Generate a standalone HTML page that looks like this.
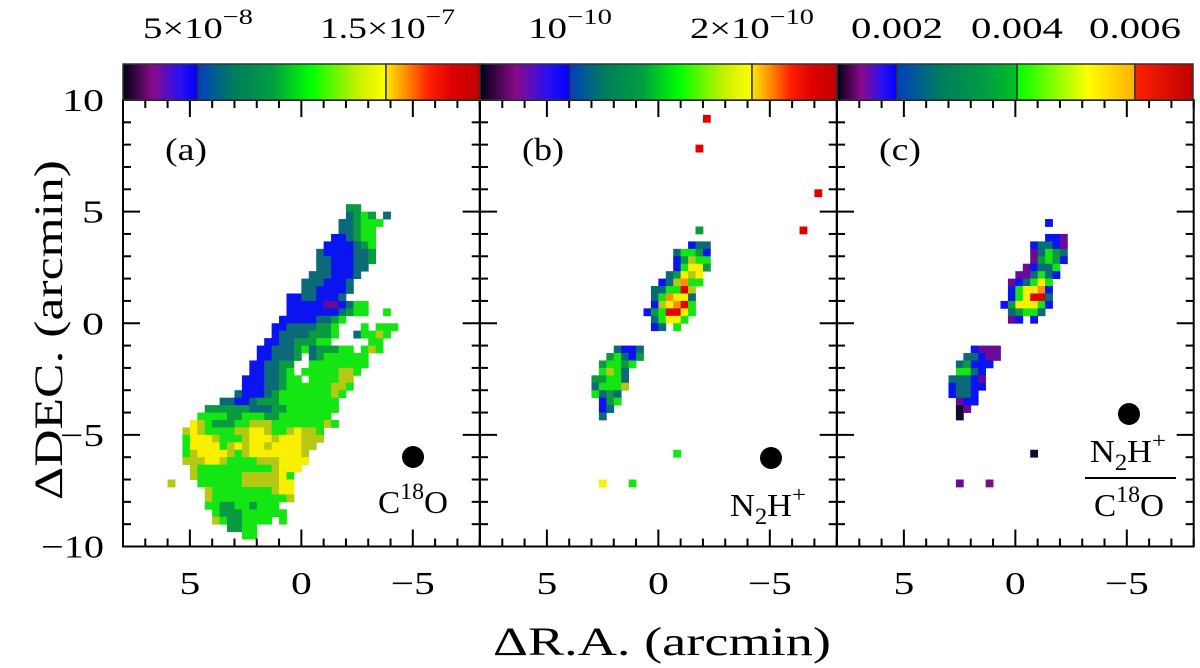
<!DOCTYPE html>
<html><head><meta charset="utf-8"><style>
html,body{margin:0;padding:0;background:#fff;}
svg{display:block;font-family:"Liberation Serif",serif;}
</style></head><body>
<svg id="fig" width="1200" height="668" viewBox="0 0 1200 668" xmlns="http://www.w3.org/2000/svg">
<defs>
<linearGradient id="ga1"><stop offset="0" stop-color="#000010"/><stop offset="0.4" stop-color="#8a0a8a"/><stop offset="0.75" stop-color="#2a10f0"/><stop offset="1" stop-color="#0000ff"/></linearGradient>
<linearGradient id="ga2"><stop offset="0" stop-color="#0040c0"/><stop offset="0.18" stop-color="#007a60"/><stop offset="0.4" stop-color="#00a040"/><stop offset="0.6" stop-color="#00ff00"/><stop offset="0.85" stop-color="#c8f000"/><stop offset="1" stop-color="#ffff00"/></linearGradient>
<linearGradient id="ga3"><stop offset="0" stop-color="#ffe800"/><stop offset="0.22" stop-color="#ff8a00"/><stop offset="0.45" stop-color="#ff2000"/><stop offset="0.7" stop-color="#e00000"/><stop offset="1" stop-color="#c00000"/></linearGradient>
<linearGradient id="gc2"><stop offset="0" stop-color="#0040c0"/><stop offset="0.35" stop-color="#007a60"/><stop offset="0.75" stop-color="#00a040"/><stop offset="1" stop-color="#00c020"/></linearGradient>
<linearGradient id="gc3"><stop offset="0" stop-color="#00ff00"/><stop offset="0.6" stop-color="#ffff00"/><stop offset="1" stop-color="#ffb000"/></linearGradient>
<linearGradient id="gc4"><stop offset="0" stop-color="#ff2000"/><stop offset="1" stop-color="#c00000"/></linearGradient>
</defs>
<g id="layer"></g>
</svg>
<script>
// ---- data ----
const panelNames = ["a","b","c"];
const raRange = [8, -8];
const decRange = [10, -10];
const xTickLabels = ["5","0","\u22125"];
const xTickValues = [5, 0, -5];
const yTickLabels = ["10","5","0","\u22125","\u221210"];
const yTickValues = [10, 5, 0, -5, -10];
// pixel maps: [row, startCol, levels]; grid cell = 1/3 arcmin, row 0 at DEC=+10, col 0 at RA=+8
const mapA = [
[14,30,"gg"],[15,30,"tgGg"],[15,35,"t"],[16,29,"ttgGGG"],[17,29,"ttgGG"],[18,28,"bbtgGG"],
[19,27,"bbbbtgG"],[20,26,"tbbbbttg"],[21,26,"ttbbbttg"],[22,26,"ttbbbtt"],[23,25,"tttbbbt"],
[24,24,"tttbbbt"],[25,24,"ttbbbbt"],[26,22,"bbttbbbt"],[27,22,"bbbbbppbtGG"],[28,22,"bbbbbbbtgGG"],[28,35,"G"],
[29,21,"bbbbbttgG"],[30,20,"bbttttggG"],[30,32,"G"],[30,34,"GGG"],[31,20,"bttttgggG"],[31,31,"tGGyG"],
[32,19,"bbttgggGG"],[32,33,"GG"],[33,18,"bbtttgGtgggGG"],[33,32,"GyG"],[34,18,"bbtttg"],[34,25,"tgGGGGGG"],
[35,17,"bbttgg"],[35,25,"GGGGGGGG"],[36,17,"bbttgG"],[36,24,"GGGGGyyG"],[37,16,"bbbttgGG"],[37,25,"GGGGyy"],
[38,16,"bbbttgGGGGGGyyG"],[39,15,"tbbbtgGGGGGGGyG"],[40,13,"ttbbtgggGGGGGGGG"],[41,11,"ggggggtttggGGGGGGG"],
[42,10,"GGGGggGGGggGGGGGGG"],[43,9,"YyGgggGGyyyGGGGGGGyG"],[44,8,"yYyGGGGyyYYyGGyYyyG"],[45,8,"GYYYyGGGyYYYyYYYyyy"],
[46,8,"GYYYYGyYyYYyYYYYyy"],[47,8,"GyYYYYyGyYYYYYYYy"],[48,8,"yyyYYyGGGGyyyYYYY"],[49,9,"yGGGGGGGGGGyYYY"],
[50,9,"yGGGGGGyyyyyYG"],[51,6,"y"],[51,10,"GGGGGGyyyyyYY"],[52,11,"yGGGGGGGGyYY"],[53,11,"yGGGGGGGGGGy"],
[54,11,"GGggGGgGGG"],[55,12,"GgggGGGGGG"],[56,12,"yGggGGGG"],[56,21,"G"],[57,14,"ggGG"],[58,16,"GG"]
];
const mapB = [
[2,30,"r"],[6,29,"r"],[12,45,"r"],[17,43,"r"],[17,29,"g"],
[19,28,"btt"],[20,26,"tGGgb"],[21,26,"bgyGG"],[22,26,"bGYYg"],[23,25,"tgYyY"],[24,24,"btyoGG"],
[25,23,"ttGGry"],[26,23,"tGoYYt"],[27,23,"byYorG"],[28,22,"bgGrrYG"],[29,23,"tGYYG"],[30,23,"bt"],[30,26,"G"],
[33,18,"tbbt"],[34,17,"gGtbg"],[35,16,"gGGgG"],[36,16,"GyGt"],[37,15,"ggGGt"],[38,15,"tGGGy"],
[39,15,"Gtgt"],[40,16,"bgG"],[41,16,"bt"],[42,16,"t"],[47,26,"G"],[51,16,"Y"],[51,20,"G"]
];
const mapC = [
[16,28,"b"],[18,28,"bbp"],[19,26,"bttbp"],[20,26,"ptGgt"],[21,26,"pgGgb"],[22,25,"pbttG"],
[23,24,"pptGtb"],[24,23,"pbtGYG"],[25,23,"bGYYob"],[26,23,"bGYrrt"],[27,22,"bgYYYGb"],[28,23,"tgGGt"],
[29,23,"pb"],[29,26,"b"],[33,18,"bppp"],[34,17,"ttbpp"],[35,16,"tgbbb"],[36,16,"GGtb"],[37,15,"tttbp"],
[38,15,"bttbb"],[39,15,"bttb"],[40,16,"pbb"],[41,16,"kp"],[42,16,"k"],[47,26,"k"],[51,16,"p"],[51,20,"P"]
];
const levelColors = {k:"#140a30",p:"#6a0a9a",P:"#800a80",b:"#0a14f0",t:"#0a6a78",g:"#0a9a40",G:"#14e614",y:"#b4c814",Y:"#f8f000",o:"#ff9000",r:"#e00000"};

// ---- layout ----
const L=[123,480,837], W=356.7, T=100, H=446.5;
const NS="http://www.w3.org/2000/svg";
const layer=document.getElementById('layer');
function mk(tag,attrs,parent){const e=document.createElementNS(NS,tag);for(const k in attrs)e.setAttribute(k,attrs[k]);(parent||layer).appendChild(e);return e;}
function xS(p,ra){return L[p]+(raRange[0]-ra)/(raRange[0]-raRange[1])*W;}
function yS(dec){return T+(decRange[0]-dec)/(decRange[0]-decRange[1])*H;}

const maps=[mapA,mapB,mapC];
maps.forEach((m,p)=>{
  const g=mk('g',{});
  
  
  m.forEach(([row,c0,s])=>{
    for(let i=0;i<s.length;i++){
      const ch=s[i]; if(ch==='.') continue;
      const ra=raRange[0]-(c0+i)/3, dec=decRange[0]-row/3;
      const x0=xS(p,ra), x1=xS(p,ra-1/3), y0=yS(dec), y1=yS(dec-1/3);
      const r=mk('rect',{x:x0.toFixed(2),y:y0.toFixed(2),width:(x1-x0+0.4).toFixed(2),height:(y1-y0+0.4).toFixed(2),fill:levelColors[ch]},g);
      
      
    }
  });
});

// frames and ticks
for(let p=0;p<3;p++){
  const g=mk('g',{stroke:'#000','stroke-width':2,fill:'none'});
  
  
  mk('rect',{x:L[p],y:T,width:W,height:H},g);
  for(let v=-8;v<=8;v++){
    const x=xS(p,v), len=(v%5===0)?17:8;
    mk('line',{x1:x,y1:T+H,x2:x,y2:T+H-len},g);
    mk('line',{x1:x,y1:T,x2:x,y2:T+len},g);
  }
  for(let v=-10;v<=10;v++){
    const y=yS(v), len=(v%5===0)?17:8;
    mk('line',{x1:L[p],y1:y,x2:L[p]+len,y2:y},g);
    mk('line',{x1:L[p]+W,y1:y,x2:L[p]+W-len,y2:y},g);
  }
  xTickValues.forEach((v,i)=>{
    const t=mk('text',{x:xS(p,v),y:594,'font-size':32,'text-anchor':'middle'});
    
    
    if(xTickLabels[i].length>1){t.setAttribute('textLength',44);t.setAttribute('lengthAdjust','spacingAndGlyphs');}
    else {t.setAttribute('transform','translate('+xS(p,v)+',0) scale(1.3,1) translate('+(-xS(p,v))+',0)');}
    t.textContent=xTickLabels[i];
  });
  const pl=mk('text',{x:L[p]+42,y:160,'font-size':32,textLength:42,lengthAdjust:'spacingAndGlyphs'});
  
  
  pl.textContent='('+panelNames[p]+')';
}
yTickValues.forEach((v,i)=>{
  const s=yTickLabels[i];
  const w=s.length===1?22:(s.length===2?(s[0]==='1'?42:44):63);
  const t=mk('text',{x:104-w,y:yS(v)+11,'font-size':32,textLength:w,lengthAdjust:'spacingAndGlyphs'});
  
  
  t.textContent=s;
});
</script>
<svg width="1200" height="668" style="position:absolute;left:0;top:0" viewBox="0 0 1200 668" font-family="Liberation Serif, serif">
<g stroke="#333" stroke-width="1.5">
<rect x="123" y="64" width="75" height="36" fill="url(#ga1)"/>
<rect x="198" y="64" width="188" height="36" fill="url(#ga2)"/>
<rect x="386" y="64" width="94" height="36" fill="url(#ga3)"/>
</g>
<g stroke="#333" stroke-width="1.5">
<rect x="480" y="64" width="90" height="36" fill="url(#ga1)"/>
<rect x="570" y="64" width="182" height="36" fill="url(#ga2)"/>
<rect x="752" y="64" width="85" height="36" fill="url(#ga3)"/>
</g>
<g stroke="#333" stroke-width="1.5">
<rect x="837" y="64" width="60" height="36" fill="url(#ga1)"/>
<rect x="897" y="64" width="120" height="36" fill="url(#gc2)"/>
<rect x="1017" y="64" width="118" height="36" fill="url(#gc3)"/>
<rect x="1135" y="64" width="58" height="36" fill="url(#gc4)"/>
</g>
<g font-size="30" lengthAdjust="spacingAndGlyphs">
<text x="143" y="38" textLength="110" lengthAdjust="spacingAndGlyphs">5×10<tspan dy="-14" font-size="22">−8</tspan></text>
<text x="320" y="38" textLength="135" lengthAdjust="spacingAndGlyphs">1.5×10<tspan dy="-14" font-size="22">−7</tspan></text>
<text x="528" y="38" textLength="84" lengthAdjust="spacingAndGlyphs">10<tspan dy="-14" font-size="22">−10</tspan></text>
<text x="690" y="38" textLength="124" lengthAdjust="spacingAndGlyphs">2×10<tspan dy="-14" font-size="22">−10</tspan></text>
<text x="851" y="38" textLength="92" lengthAdjust="spacingAndGlyphs">0.002</text>
<text x="971" y="38" textLength="92" lengthAdjust="spacingAndGlyphs">0.004</text>
<text x="1089" y="38" textLength="92" lengthAdjust="spacingAndGlyphs">0.006</text>
</g>
<circle cx="413" cy="457" r="11" fill="#000"/>
<circle cx="771" cy="458" r="11" fill="#000"/>
<circle cx="1129" cy="414" r="11" fill="#000"/>
<text x="378" y="513" font-size="32" textLength="70" lengthAdjust="spacingAndGlyphs">C<tspan dy="-14" font-size="23">18</tspan><tspan dy="14">O</tspan></text>
<text x="730" y="516" font-size="32" textLength="76" lengthAdjust="spacingAndGlyphs">N<tspan dy="8" font-size="23">2</tspan><tspan dy="-8">H</tspan><tspan dy="-14" font-size="23">+</tspan></text>
<g>
<text x="1090" y="462" font-size="32" textLength="76" lengthAdjust="spacingAndGlyphs">N<tspan dy="8" font-size="23">2</tspan><tspan dy="-8">H</tspan><tspan dy="-14" font-size="23">+</tspan></text>
<line x1="1085" y1="478" x2="1176" y2="478" stroke="#000" stroke-width="2"/>
<text x="1094" y="516" font-size="32" textLength="70" lengthAdjust="spacingAndGlyphs">C<tspan dy="-14" font-size="23">18</tspan><tspan dy="14">O</tspan></text>
</g>
<text x="493" y="655" font-size="40" textLength="338" lengthAdjust="spacingAndGlyphs">ΔR.A. (arcmin)</text>
<text x="0" y="0" font-size="40" textLength="340" lengthAdjust="spacingAndGlyphs" transform="translate(62,500) rotate(-90)">ΔDEC. (arcmin)</text>
</svg>
</body></html>
